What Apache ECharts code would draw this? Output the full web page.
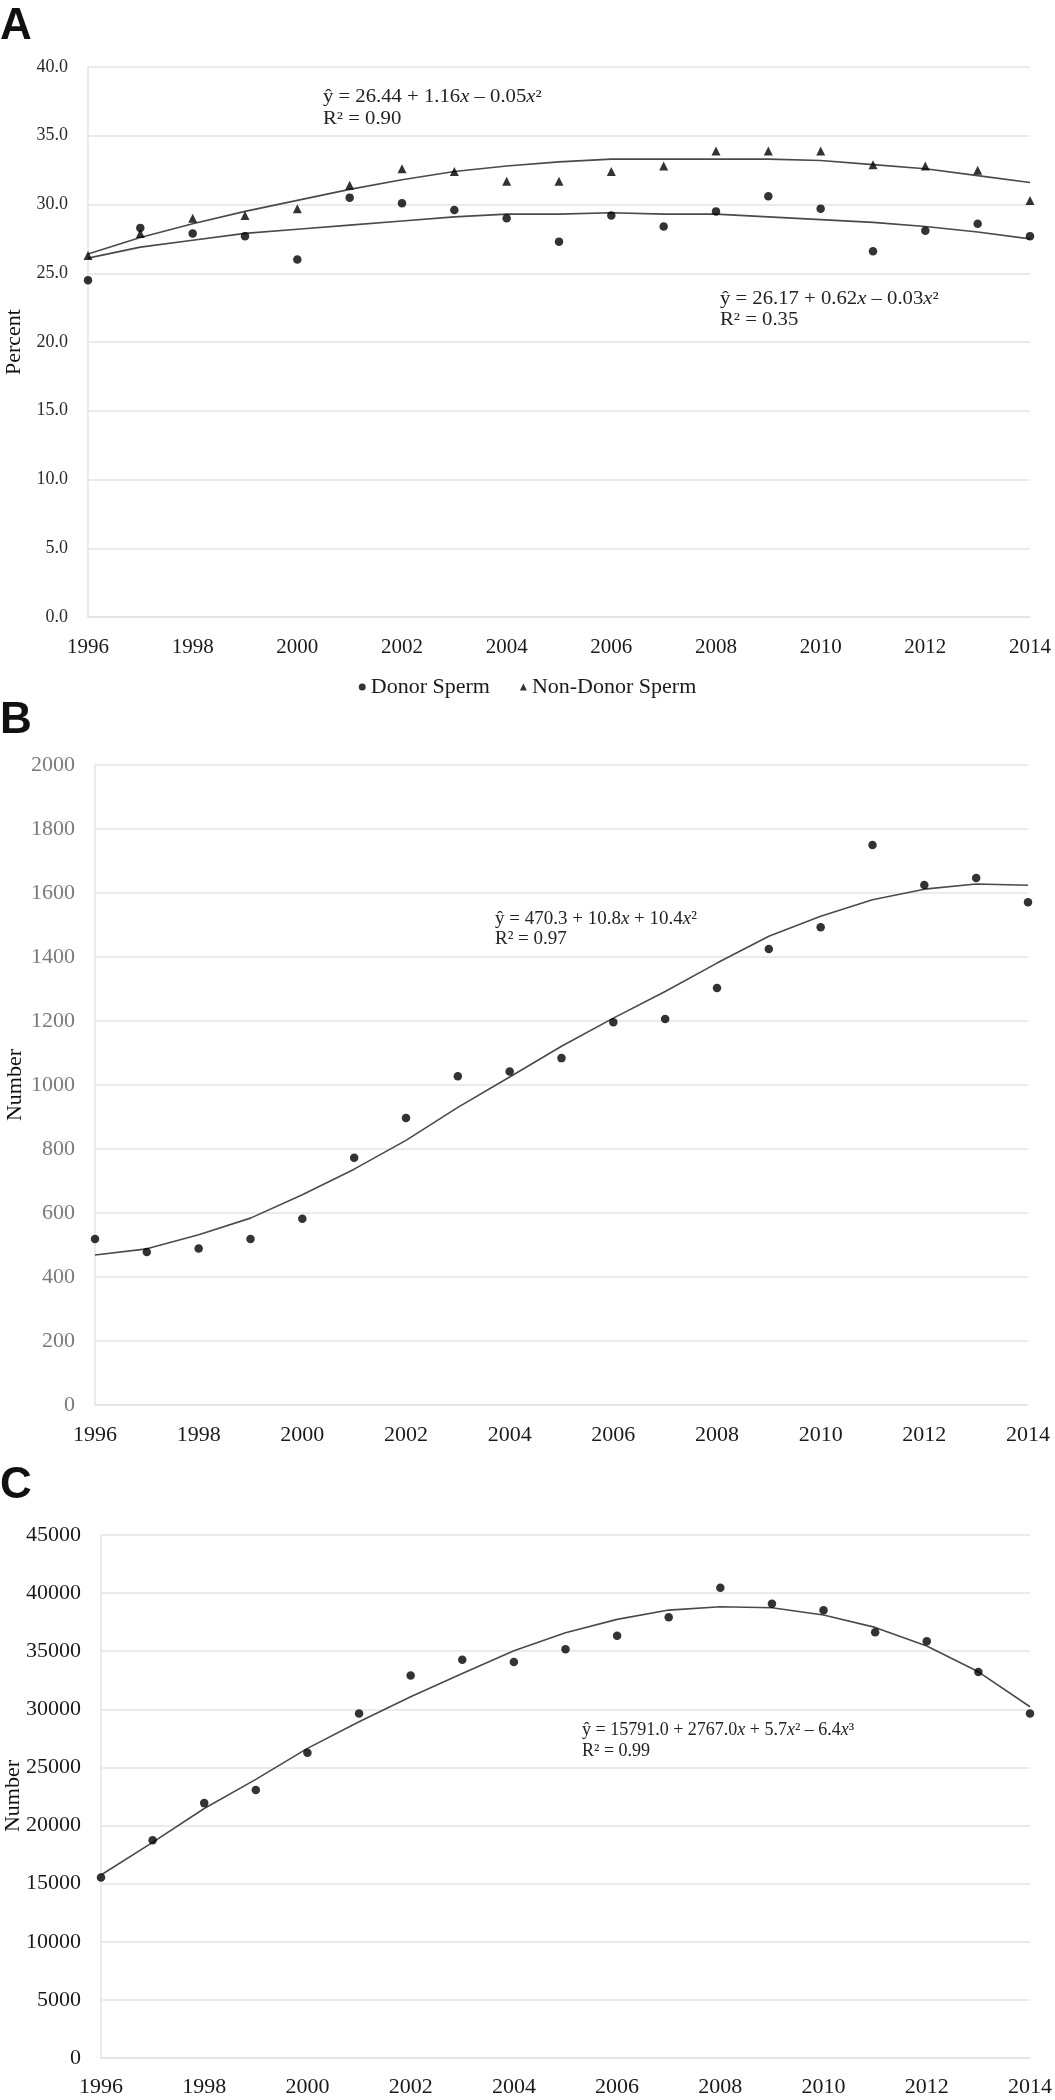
<!DOCTYPE html>
<html>
<head>
<meta charset="utf-8">
<script src="https://cdn.jsdelivr.net/npm/echarts@6/dist/echarts.min.js"></script>
<style>
html,body{margin:0;padding:0;background:#fff;}
#chart{width:1055px;height:2100px;}
</style>
</head>
<body>
<div id="chart"></div>
<script>
// ---- data ----
const years = [1996,1997,1998,1999,2000,2001,2002,2003,2004,2005,2006,2007,2008,2009,2010,2011,2012,2013,2014];

// Panel A: percent
const donorPct    = [24.5,28.3,27.9,27.7,26.0,30.5,30.1,29.6,29.0,27.3,29.2,28.4,29.5,30.6,29.7,26.6,28.1,28.6,27.7];
const nonDonorPct = [26.3,27.9,29.0,29.2,29.7,31.4,32.6,32.4,31.7,31.7,32.4,32.8,33.9,33.9,33.9,32.9,32.8,32.5,30.3];
const donorTrend    = [26.1,26.9,27.4,27.9,28.2,28.5,28.8,29.1,29.3,29.3,29.4,29.3,29.3,29.1,28.9,28.7,28.4,28.0,27.5];
const nonDonorTrend = [26.4,27.6,28.6,29.5,30.3,31.1,31.8,32.4,32.8,33.1,33.3,33.3,33.3,33.3,33.2,32.9,32.6,32.1,31.6];

// Panel B: number (donor sperm)
const numberB = [519,478,489,519,582,773,897,1027,1042,1084,1196,1206,1303,1425,1493,1750,1625,1647,1571];
const trendB  = [469,488,532,584,657,737,827,930,1025,1121,1209,1292,1381,1465,1527,1579,1612,1628,1624];

// Panel C: number (non-donor sperm)
const numberC = [15530,18740,21930,23050,26260,29650,32920,34270,34070,35160,36330,37920,40470,39090,38520,36630,35850,33210,29650];
const trendC  = [15750,18550,21470,23970,26640,28930,31080,33090,35040,36590,37740,38540,38830,38740,38110,37050,35450,33230,30220];

const seriesNames = ['Donor Sperm','Non-Donor Sperm'];
const eqA1 = ['ŷ = 26.44 + 1.16{i|x} – 0.05{i|x}²', 'R² = 0.90'];
const eqA2 = ['ŷ = 26.17 + 0.62{i|x} – 0.03{i|x}²', 'R² = 0.35'];
const eqB  = ['ŷ = 470.3 + 10.8{i|x} + 10.4{i|x}²', 'R² = 0.97'];
const eqC  = ['ŷ = 15791.0 + 2767.0{i|x} + 5.7{i|x}² – 6.4{i|x}³', 'R² = 0.99'];

// ---- chart ----
const SERIF = 'Liberation Serif';
const SANS = 'Liberation Sans';
const zip = arr => years.map((y, i) => [y, arr[i]]);
const GRID_C = '#e4e4e4';

function xAxis(gi, fs, margin) {
  return {
    type: 'value', gridIndex: gi, min: 1996, max: 2014, interval: 2,
    axisLine: { show: true, lineStyle: { color: GRID_C, width: 1.5 } },
    axisTick: { show: false }, splitLine: { show: false },
    axisLabel: { formatter: v => String(v), fontFamily: SERIF, fontSize: fs, color: '#1a1a1a', margin: margin }
  };
}
function yAxis(gi, max, interval, fs, color, fmt) {
  return {
    type: 'value', gridIndex: gi, min: 0, max: max, interval: interval,
    axisLine: { show: true, lineStyle: { color: GRID_C, width: 1.5 } },
    axisTick: { show: false },
    splitLine: { show: true, lineStyle: { color: GRID_C, width: 1.5 } },
    axisLabel: { formatter: fmt, fontFamily: SERIF, fontSize: fs, color: color, margin: 20 }
  };
}
function trend(name, data, xi) {
  return {
    name: name, type: 'line', xAxisIndex: xi, yAxisIndex: xi, data: zip(data),
    showSymbol: false, symbol: 'none', smooth: false, silent: true,
    lineStyle: { color: '#4a4a4a', width: 1.6 }, z: 1
  };
}
function dots(name, data, xi, symbol, size) {
  return {
    name: name, type: 'scatter', xAxisIndex: xi, yAxisIndex: xi, data: zip(data),
    symbol: symbol, symbolSize: size, itemStyle: { color: '#000' }, z: 3
  };
}
function eqText(lines, x, y1, y2, fs, sx) {
  const rich = { i: { fontStyle: 'italic', fontFamily: SERIF, fontSize: fs, fill: '#222' } };
  return lines.map((t, k) => ({
    type: 'text', x: x, y: k === 0 ? y1 : y2, scaleX: sx || 1,
    style: { text: t, rich: rich, fontFamily: SERIF, fontSize: fs, fill: '#222', align: 'left', verticalAlign: 'middle' }
  }));
}
function letter(t, y) {
  return { type: 'text', x: 0, y: y, style: { text: t, fontFamily: SANS, fontWeight: 'bold', fontSize: 44, fill: '#111', align: 'left', verticalAlign: 'middle' } };
}
function vName(t, x, y) {
  return { type: 'text', x: x, y: y, rotation: Math.PI / 2,
    style: { text: t, fontFamily: SERIF, fontSize: 22, fill: '#111', align: 'center', verticalAlign: 'middle' } };
}

const chart = echarts.init(document.getElementById('chart'), null, { renderer: 'canvas' });
chart.setOption({
  animation: false,
  backgroundColor: '#ffffff',
  textStyle: { fontFamily: SERIF },
  grid: [
    { left: 88, top: 67, width: 942, height: 550 },
    { left: 95, top: 765, width: 933, height: 640 },
    { left: 101, top: 1535, width: 930, height: 523 }
  ],
  xAxis: [xAxis(0, 21, 20), xAxis(1, 22, 19), xAxis(2, 22, 18)],
  yAxis: [
    yAxis(0, 40, 5, 18, '#2a2a2a', v => v.toFixed(1)),
    yAxis(1, 2000, 200, 22, '#7a7a7a', v => String(v)),
    yAxis(2, 45000, 5000, 22, '#1a1a1a', v => String(v))
  ],
  legend: {
    data: seriesNames, left: 'center', top: 676, padding: 0, itemGap: 30,
    itemWidth: 7, itemHeight: 7,
    textStyle: { fontFamily: SERIF, fontSize: 22, color: '#1a1a1a' }
  },
  series: [
    trend('trendDonor', donorTrend, 0),
    trend('trendNonDonor', nonDonorTrend, 0),
    dots(seriesNames[0], donorPct, 0, 'circle', 8.5),
    dots(seriesNames[1], nonDonorPct, 0, 'triangle', 9),
    trend('trendB', trendB, 1),
    dots('B', numberB, 1, 'circle', 8.5),
    trend('trendC', trendC, 2),
    dots('C', numberC, 2, 'circle', 8.5)
  ],
  graphic: [
    letter('A', 27), letter('B', 721), letter('C', 1486),
    vName('Percent', 14, 342), vName('Number', 15, 1085), vName('Number', 13, 1796)
  ].concat(
    eqText(eqA1, 323, 97, 119, 18, 1.15),
    eqText(eqA2, 720, 299, 320, 18, 1.15),
    eqText(eqB, 495, 919, 939, 19),
    eqText(eqC, 582, 1730, 1751, 18)
  )
});
</script>
</body>
</html>
